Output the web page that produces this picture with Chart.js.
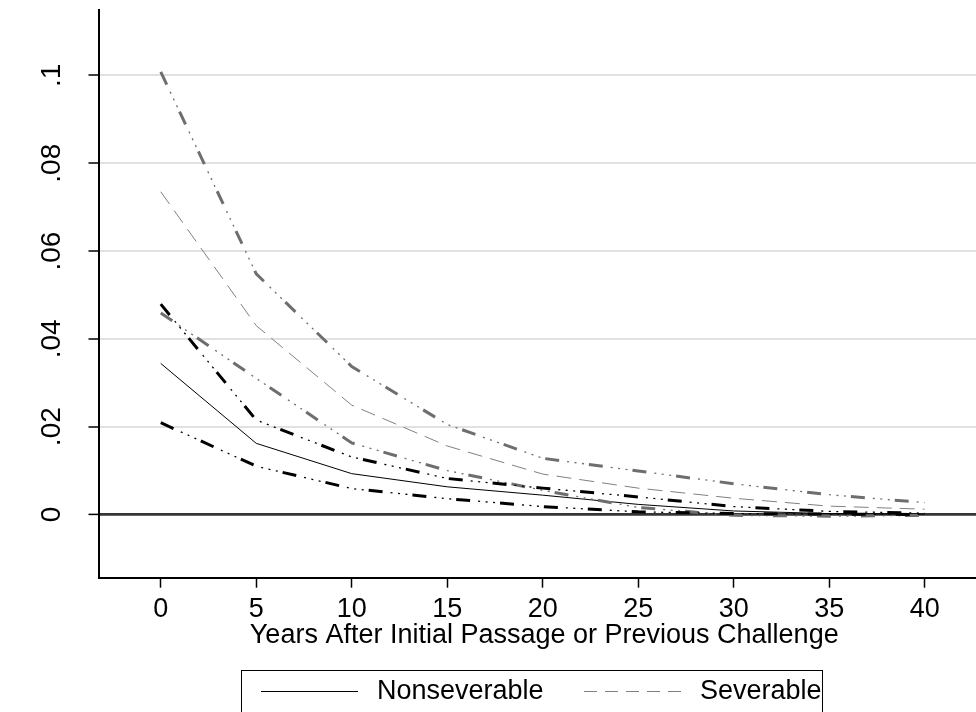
<!DOCTYPE html>
<html lang="en">
<head>
<meta charset="UTF-8">
<title>Hazard by years after passage</title>
<script src="https://cdn.jsdelivr.net/npm/chart.js"></script>
<style>
  html, body { margin: 0; padding: 0; background: #fff; overflow: hidden; }
  /* the plot region runs a little past the right edge of the picture */
  #wrap { width: 976px; height: 712px; overflow: hidden; }
</style>
</head>
<body>
<div id="wrap"><canvas id="chart" width="990" height="712"></canvas></div>
<script>
// data
var years = [0, 5, 10, 15, 20, 25, 30, 35, 40];
var nonsev   = [0.0344, 0.0162, 0.0093, 0.0063, 0.0044, 0.0023, 0.0008, 0.0002, 0.0001];
var nonsevHi = [0.0479, 0.0215, 0.0131, 0.0082, 0.0060, 0.0040, 0.0018, 0.0007, 0.0003];
var nonsevLo = [0.0209, 0.0110, 0.0059, 0.0036, 0.0018, 0.0006, 0.0002, 0.0001, 0.0000];
var sev      = [0.0735, 0.0430, 0.0249, 0.0156, 0.0092, 0.0060, 0.0037, 0.0019, 0.0012];
var sevHi    = [0.1008, 0.0548, 0.0337, 0.0205, 0.0128, 0.0099, 0.0070, 0.0045, 0.0027];
var sevLo    = [0.0459, 0.0310, 0.0163, 0.0100, 0.0055, 0.0016, -0.0002, -0.0004, -0.0002];
var xTicks = [0, 5, 10, 15, 20, 25, 30, 35, 40];
var yTicks = [0, 0.02, 0.04, 0.06, 0.08, 0.1];
var xTitle = 'Years After Initial Passage or Previous Challenge';

var FONT = { family: "'Liberation Sans', Arial, sans-serif", size: 27 };

function pts(arr) {
    return arr.map(function(v, i) { return { x: years[i], y: v }; });
}

// long dash + three dots: thick dash part and thin dot part on the same path
function ciSets(label, data, color) {
    return [
        { label: label, data: pts(data), borderColor: color, borderWidth: 3,
          borderDash: [14, 30], pointRadius: 0, tension: 0, fill: false },
        { label: label + ' dots', data: pts(data), borderColor: color, borderWidth: 1.3,
          borderDash: [2, 5.5, 2, 5.5, 2, 27], borderDashOffset: 22,
          pointRadius: 0, tension: 0, fill: false }
    ];
}

var datasets = []
    .concat(ciSets('Nonseverable upper', nonsevHi, '#000000'))
    .concat(ciSets('Nonseverable lower', nonsevLo, '#000000'))
    .concat(ciSets('Severable upper', sevHi, '#6e6e6e'))
    .concat(ciSets('Severable lower', sevLo, '#6e6e6e'))
    .concat([
        { label: 'Nonseverable', data: pts(nonsev), borderColor: '#000000', borderWidth: 1,
          pointRadius: 0, tension: 0, fill: false, inLegend: true },
        { label: 'Severable', data: pts(sev), borderColor: '#808080', borderWidth: 1,
          borderDash: [15, 8], pointRadius: 0, tension: 0, fill: false, inLegend: true }
    ]);

// boxed legend under the axis title
var boxLegend = {
    id: 'boxLegend',
    afterDraw: function(chart) {
        var ctx = chart.ctx;
        var items = chart.data.datasets.filter(function(d) { return d.inLegend; });
        var left = 241.5, right = 822.5, top = 670.5, midY = 691;
        ctx.save();
        ctx.strokeStyle = '#000';
        ctx.lineWidth = 1;
        ctx.strokeRect(left, top, right - left, 80);
        ctx.font = FONT.size + 'px ' + FONT.family;
        ctx.textBaseline = 'middle';
        ctx.fillStyle = '#000';
        var x = 261;
        items.forEach(function(d) {
            ctx.beginPath();
            ctx.strokeStyle = d.borderColor;
            ctx.lineWidth = d.borderWidth;
            ctx.setLineDash(d.borderDash ? [13, 8] : []);
            ctx.moveTo(x, midY + 0.5);
            ctx.lineTo(x + 97, midY + 0.5);
            ctx.stroke();
            ctx.setLineDash([]);
            ctx.fillText(d.label, x + 116, midY + 1);
            x = 584;
        });
        ctx.restore();
    }
};

new Chart(document.getElementById('chart'), {
    type: 'line',
    data: { datasets: datasets },
    options: {
        responsive: false,
        animation: false,
        layout: { padding: { top: 10, left: 0, right: 0, bottom: 60 } },
        plugins: { legend: { display: false }, tooltip: { enabled: false } },
        scales: {
            x: {
                type: 'linear',
                min: -3.26,
                max: 43.42,
                afterBuildTicks: function(s) { s.ticks = xTicks.map(function(v) { return { value: v }; }); },
                afterFit: function(s) { s.height = 74.3; s.paddingLeft = 0; s.paddingRight = 0; },
                grid: { drawOnChartArea: false, tickLength: 10, tickColor: '#000', tickWidth: 1.5 },
                border: { color: '#000', width: 2 },
                ticks: { color: '#000', font: FONT, padding: 6, maxRotation: 0, autoSkip: false },
                title: { display: true, text: xTitle, color: '#000', font: FONT, padding: 0 }
            },
            y: {
                min: -0.0144,
                max: 0.1149,
                afterBuildTicks: function(s) { s.ticks = yTicks.map(function(v) { return { value: v }; }); },
                afterFit: function(s) { s.width = 98.5; s.paddingTop = 0; s.paddingBottom = 0; },
                grid: {
                    color: function(c) { return c.tick && c.tick.value === 0 ? '#363636' : '#e1e1e1'; },
                    lineWidth: function(c) { return c.tick && c.tick.value === 0 ? 2.8 : 2; },
                    tickLength: 10, tickColor: '#000', tickWidth: 1.5
                },
                border: { color: '#000', width: 2 },
                ticks: {
                    color: '#000', font: { family: FONT.family, size: 28 }, padding: 17,
                    minRotation: 90, maxRotation: 90, crossAlign: 'center', autoSkip: false,
                    callback: function(v) { return v === 0 ? '0' : String(v).replace(/^0/, ''); }
                }
            }
        }
    },
    plugins: [boxLegend]
});
</script>
</body>
</html>
